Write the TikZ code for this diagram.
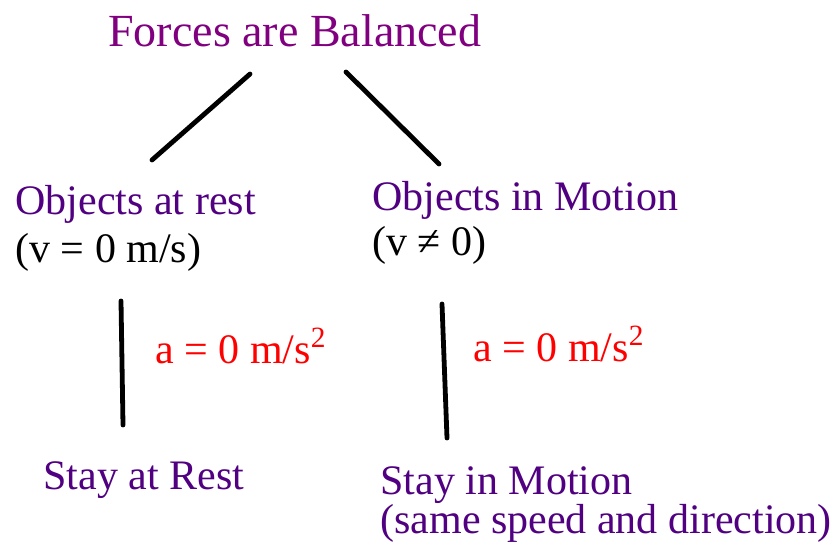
\documentclass[tikz,border=0pt]{standalone}
\usepackage{fontspec}
\setmainfont{Liberation Serif}
\usepackage{xcolor}
\definecolor{titlepurple}{RGB}{128,0,128}
\definecolor{deeppurple}{RGB}{80,0,128}
\definecolor{accred}{RGB}{255,0,0}
\tikzset{
  txt/.style={anchor=base west, inner sep=0pt, font=\fontsize{21}{25}\selectfont},
  head/.style={txt, text=titlepurple, font=\fontsize{23}{27}\selectfont},
  state/.style={txt, text=deeppurple},
  cond/.style={txt, text=black},
  acc/.style={txt, text=accred},
  branch/.style={line width=2.4pt, line cap=round},
}
\begin{document}
\begin{tikzpicture}[x=0.5pt, y=-0.5pt]
\useasboundingbox (0,0) rectangle (836,553);
\node[head] (bal) at (108,46) {Forces are Balanced};
\node[state] (rest) at (15,214) {Objects at rest};
\node[cond] (restv) at (15,262) {(v = 0 m/s)};
\node[state] (move) at (372,210) {Objects in Motion};
\node[cond] (movev) at (372,255) {(v ≠ 0)};
\node[acc] (accl) at (155,363) {a = 0 m/s\textsuperscript{2}};
\node[acc] (accr) at (473,361) {a = 0 m/s\textsuperscript{2}};
\node[state] (stayr) at (43,489) {Stay at Rest};
\node[state] (staym) at (380,494) {Stay in Motion};
\node[state] (staymd) at (380,533) {(same speed and direction)};
% branch ends
\coordinate (bl1) at (250,74); \coordinate (bl2) at (152,160);
\coordinate (br1) at (346,72); \coordinate (br2) at (439,164);
\coordinate (vl1) at (121,301); \coordinate (vl2) at (123,425);
\coordinate (vr1) at (442,304); \coordinate (vr2) at (447,438);
\draw[branch] (bl1)--(bl2); \draw[branch] (br1)--(br2);
\draw[branch] (vl1)--(vl2); \draw[branch] (vr1)--(vr2);
\end{tikzpicture}
\end{document}
